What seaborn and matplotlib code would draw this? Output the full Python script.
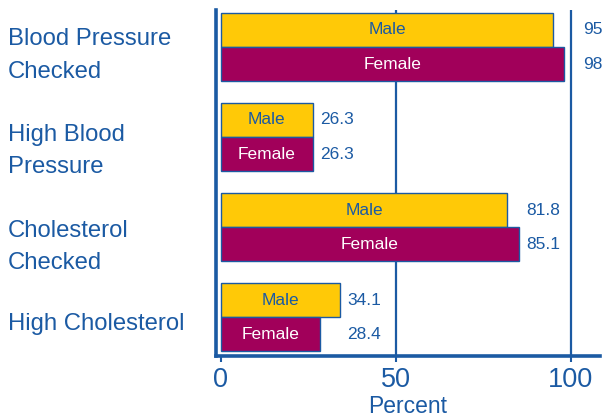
import matplotlib
matplotlib.use("Agg")
import matplotlib.pyplot as plt
from matplotlib.transforms import ScaledTranslation
import pandas as pd
import seaborn as sns

# ---- data ----
categories = ["Blood Pressure\nChecked", "High Blood\nPressure",
              "Cholesterol\nChecked", "High Cholesterol"]
series = ["Male", "Female"]
male = [95, 26.3, 81.8, 34.1]
female = [98, 26.3, 85.1, 28.4]
xticks = [0, 50, 100]
x_label = "Percent"

# ---- styles ----
YELLOW = "#FFC907"
MAROON = "#A1005A"
BLUE = "#1B5AA3"

df = pd.DataFrame({
    "Measure": categories * 2,
    "Sex": ["Male"] * len(categories) + ["Female"] * len(categories),
    "Percent": male + female,
})

sns.set_theme(style="white")
plt.rcParams["font.family"] = ["Liberation Sans", "DejaVu Sans"]

fig = plt.figure(figsize=(6.02, 4.17), dpi=100)
ax = fig.add_axes([216 / 602, 1 - 356 / 417, (600 - 216) / 602, (356 - 10) / 417])

sns.barplot(data=df, x="Percent", y="Measure", hue="Sex", order=categories,
            hue_order=series, palette={"Male": YELLOW, "Female": MAROON},
            orient="h", width=0.76, edgecolor=BLUE, linewidth=1.0,
            saturation=1, ax=ax, legend=False, errorbar=None)

ax.set_xlim(-1.4, 108.3)
ax.set_ylim(3.43, -0.41)

# bar inner labels
for name, cont in zip(series, ax.containers):
    for p in cont.patches:
        cx = p.get_x() + p.get_width() / 2
        cy = p.get_y() + p.get_height() / 2
        ax.text(cx, cy, name, ha="center", va="center", fontsize=12.5,
                color=BLUE if name == "Male" else "white")

# value labels
for i, (m, f) in enumerate(zip(male, female)):
    mx = max(m, f)
    lx = 103.5 if mx > 90 else mx + 2
    pm = ax.containers[0].patches[i]
    pf = ax.containers[1].patches[i]
    for v, p in ((m, pm), (f, pf)):
        ax.text(lx, p.get_y() + p.get_height() / 2, f"{v:g}", ha="left",
                va="center", fontsize=12.5, color=BLUE)

# axes styling
for s in ("top", "right"):
    ax.spines[s].set_visible(False)
for s in ("left", "bottom"):
    ax.spines[s].set_color(BLUE)
    ax.spines[s].set_linewidth(2.6)

ax.set_xticks(xticks)
ax.set_xticklabels([str(t) for t in xticks])
ax.tick_params(axis="x", bottom=True, length=4, width=1.5, color=BLUE,
               direction="out", pad=4, labelsize=19.5, labelcolor=BLUE)
ax.xaxis.grid(True, color=BLUE, linewidth=1.6)
ax.set_axisbelow(True)
ax.get_xgridlines()[0].set_visible(False)

ax.set_yticks(range(len(categories)))
ax.set_yticklabels(categories, ha="left", fontsize=17.2, color=BLUE,
                   linespacing=1.6)
ax.tick_params(axis="y", left=False, length=0, pad=(216 - 8) * 0.72)
offsets_px = [1, 6.5, 12, 4]
for lab, off in zip(ax.get_yticklabels(), offsets_px):
    lab.set_transform(lab.get_transform() +
                      ScaledTranslation(0, -off / 100, fig.dpi_scale_trans))

ax.set_ylabel("")
ax.set_xlabel(x_label, fontsize=16.5, color=BLUE, labelpad=1.5)

fig.savefig("out.png", dpi=100)
